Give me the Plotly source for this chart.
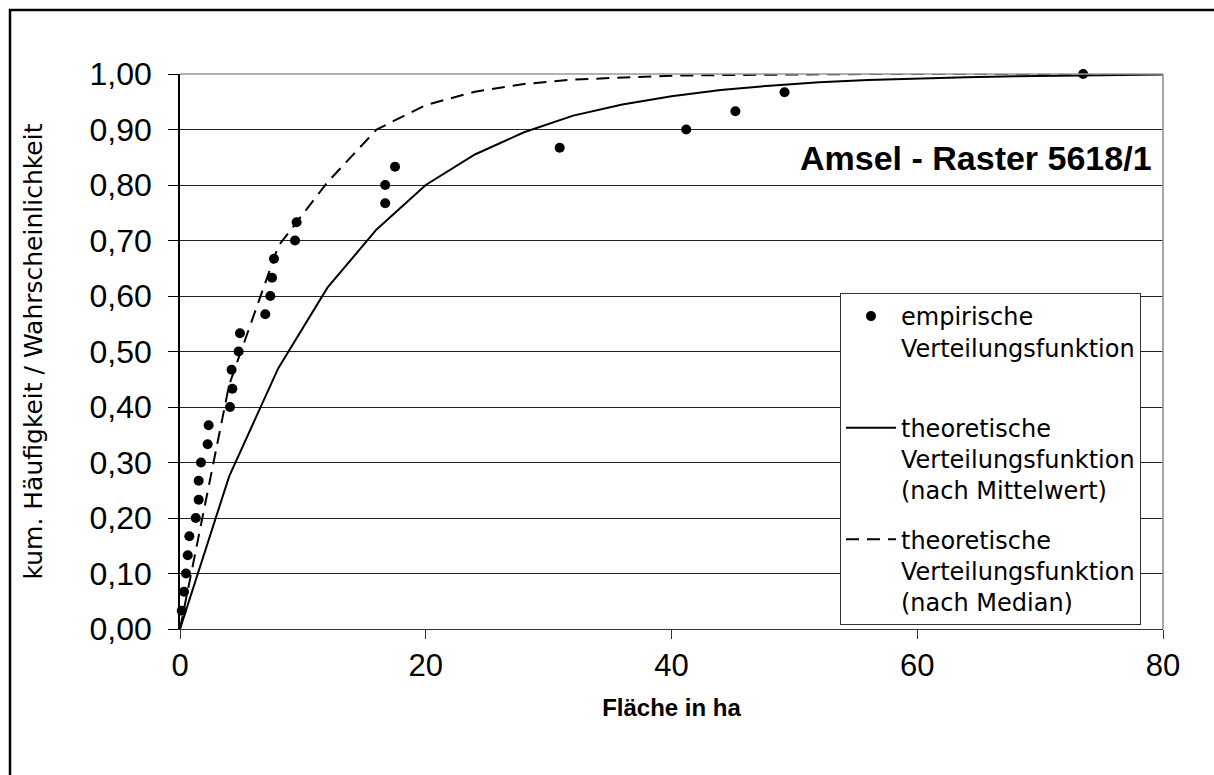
import plotly.graph_objects as go

# empirical distribution (Fläche in ha, cumulative frequency)
emp_x = [0.14, 0.33, 0.49, 0.63, 0.76, 1.28, 1.52, 1.52, 1.71, 2.25,
         2.33, 4.07, 4.26, 4.20, 4.77, 4.88, 6.94, 7.35, 7.49, 7.65,
         9.36, 9.49, 16.7, 16.7, 17.5, 30.9, 41.2, 45.2, 49.2, 73.5]
emp_y = [0.033, 0.067, 0.100, 0.133, 0.167, 0.200, 0.233, 0.267, 0.300, 0.333,
         0.367, 0.400, 0.433, 0.467, 0.500, 0.533, 0.567, 0.600, 0.633, 0.667,
         0.700, 0.733, 0.767, 0.800, 0.833, 0.867, 0.900, 0.933, 0.967, 1.000]

# theoretical curves
theo_x = [0, 4, 8, 12, 16, 20, 24, 28, 32, 36, 40, 44, 48, 52, 56, 60, 64, 68, 72, 76, 80]
theo_mean_y = [0, 0.275, 0.47, 0.615, 0.72, 0.80, 0.855, 0.895, 0.925, 0.945, 0.96,
               0.971, 0.979, 0.985, 0.989, 0.992, 0.994, 0.996, 0.997, 0.998, 0.999]
theo_median_y = [0, 0.44, 0.69, 0.805, 0.90, 0.944, 0.968, 0.982, 0.99, 0.994, 0.997,
                 0.998, 0.999, 0.9995, 1, 1, 1, 1, 1, 1, 1]

y_ticks = [0, 0.1, 0.2, 0.3, 0.4, 0.5, 0.6, 0.7, 0.8, 0.9, 1.0]
x_ticks = [0, 20, 40, 60, 80]

TXT = "Arial, Liberation Sans, sans-serif"
LEG = "DejaVu Sans, sans-serif"

fig = go.Figure()
fig.add_trace(go.Scatter(
    x=emp_x, y=emp_y, mode="markers",
    name="empirische<br>Verteilungsfunktion<br> ",
    marker=dict(color="black", size=10, symbol="circle"),
    cliponaxis=False, legendgroup="a"))
fig.add_trace(go.Scatter(
    x=theo_x, y=theo_mean_y, mode="lines",
    name="theoretische<br>Verteilungsfunktion<br>(nach Mittelwert)",
    line=dict(color="black", width=2), cliponaxis=False, legendgroup="b"))
fig.add_trace(go.Scatter(
    x=theo_x, y=theo_median_y, mode="lines",
    name="theoretische<br>Verteilungsfunktion<br>(nach Median)",
    line=dict(color="black", width=2, dash="13px,8px"), cliponaxis=False, legendgroup="c"))

L, R, T, B = 180, 51, 74, 146
W, H = 1214, 775
pw, ph = W - L - R, H - T - B

def px_x(p):
    return (p - L) / pw

def px_y(p):
    return (H - B - p) / ph

fig.update_layout(
    width=W, height=H,
    margin=dict(l=L, r=R, t=T, b=B),
    paper_bgcolor="white", plot_bgcolor="white",
    separators=",.",
    font=dict(family=TXT, color="black"),
    showlegend=True,
    legend=dict(
        x=px_x(840), y=px_y(293), xanchor="left", yanchor="top",
        bgcolor="white", bordercolor="#333", borderwidth=1,
        font=dict(family=LEG, size=24, color="black"),
        valign="top", tracegroupgap=15, itemwidth=50,
        traceorder="grouped", entrywidth=250, entrywidthmode="pixels",
    ),
    xaxis=dict(
        range=[0, 80], tickvals=x_ticks, ticks="outside", ticklen=9,
        tickcolor="#333", showline=True, linecolor="#333", linewidth=1,
        showgrid=False, zeroline=False,
        tickfont=dict(family=TXT, size=31),
        title=dict(text="<b>Fläche in ha</b>", font=dict(family=TXT, size=24), standoff=16),
    ),
    yaxis=dict(
        range=[0, 1], tickvals=y_ticks, tickformat=".2f", ticks="outside", ticklen=10,
        tickcolor="black", showline=True, linecolor="black", linewidth=1.5,
        showgrid=True, gridcolor="#222", gridwidth=1, zeroline=False,
        tickfont=dict(family=TXT, size=32), ticklabelstandoff=10,
        title=dict(text="kum. Häufigkeit / Wahrscheinlichkeit",
                   font=dict(family=LEG, size=25), standoff=40),
    ),
    annotations=[dict(
        text="<b>Amsel - Raster 5618/1</b>", xref="paper", yref="paper",
        x=px_x(1154), y=px_y(158), xanchor="right", yanchor="middle",
        showarrow=False, font=dict(family=TXT, size=34, color="black"))],
    shapes=[
        dict(type="line", xref="paper", yref="paper", x0=1, x1=1, y0=0, y1=1,
             line=dict(color="#888", width=1.5)),
        dict(type="line", xref="paper", yref="paper", x0=0, x1=1, y0=1, y1=1,
             line=dict(color="#999", width=1.5)),
        dict(type="rect", xref="paper", yref="paper",
             x0=px_x(10), x1=px_x(1240), y0=px_y(800), y1=px_y(10),
             line=dict(color="black", width=2.5), fillcolor="rgba(0,0,0,0)", layer="above"),
    ],
)

fig.write_html("out.html")
